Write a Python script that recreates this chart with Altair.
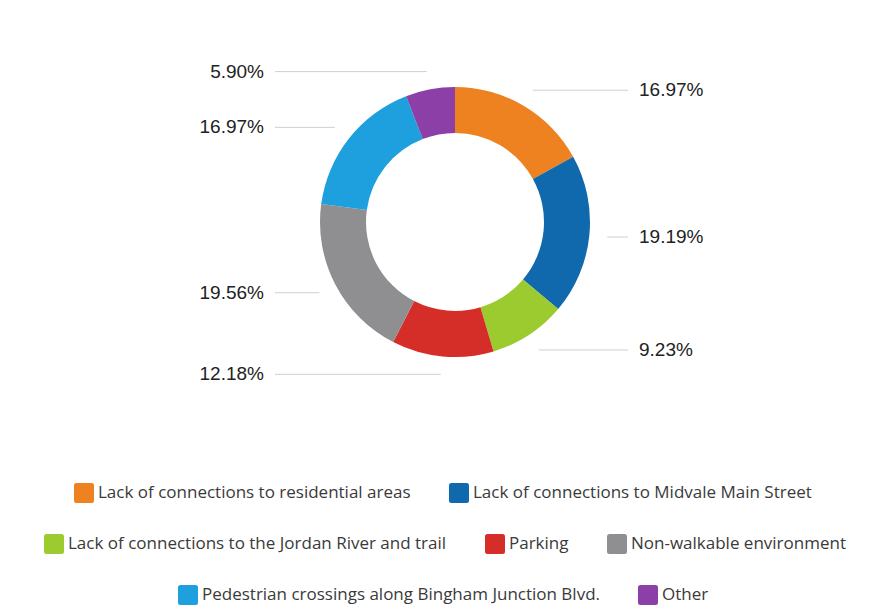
import math
import altair as alt
import pandas as pd

# ---- data ----
categories = [
    "Lack of connections to residential areas",
    "Lack of connections to Midvale Main Street",
    "Lack of connections to the Jordan River and trail",
    "Parking",
    "Non-walkable environment",
    "Pedestrian crossings along Bingham Junction Blvd.",
    "Other",
]
values = [16.97, 19.19, 9.23, 12.18, 19.56, 16.97, 5.90]
colors = ["#EE8120", "#0F69AC", "#9CCB30", "#D52D27", "#8F8F92", "#1EA0DE", "#8C3FA6"]
legend_rows = [0, 0, 1, 1, 1, 2, 2]

# ---- layout (pixels in plot coordinates) ----
W, H = 847, 580
CX, CY = 442, 209
R_IN, R_OUT = 89, 135
R_LBL = 153
RIGHT_COL = 626
LEFT_COL = 251

rows = []
cum = 0.0
total = sum(values)
for i, (c, v) in enumerate(zip(categories, values)):
    start = cum
    end = cum + v
    cum = end
    mid = (start + end) / 2 / total * 2 * math.pi
    sx = CX + R_LBL * math.sin(mid)
    ly = CY - R_LBL * math.cos(mid)
    side = "right" if math.sin(mid) >= 0 else "left"
    if side == "right":
        x0, x1, tx = sx, RIGHT_COL - 11, RIGHT_COL
    else:
        x0, x1, tx = LEFT_COL + 11, sx, LEFT_COL
    rows.append(dict(cat=c, value=v, start=start, end=end, idx=i,
                     lrow=legend_rows[i], side=side, x0=x0, x1=x1, tx=tx, ly=ly,
                     label=f"{v:.2f}%"))
df = pd.DataFrame(rows)

xs = alt.Scale(domain=[0, W], nice=False, zero=False)
ys = alt.Scale(domain=[0, H], nice=False, zero=False, reverse=True)
theta_scale = alt.Scale(domain=[0, total], range=[0, 2 * math.pi])

rounded_square = "M-1,-0.75Q-1,-1,-0.75,-1L0.75,-1Q1,-1,1,-0.75L1,0.75Q1,1,0.75,1L-0.75,1Q-1,1,-1,0.75Z"

legend_pos = {0: (61, 470), 1: (31, 521), 2: (165, 572)}

arc_layers = []
for r in range(3):
    sub = df[df.lrow == r]
    lx, ly = legend_pos[r]
    arc_layers.append(
        alt.Chart(sub).mark_arc(innerRadius=R_IN, outerRadius=R_OUT).encode(
            theta=alt.Theta("start:Q", scale=theta_scale),
            theta2="end:Q",
            x=alt.value(CX),
            y=alt.value(CY),
            color=alt.Color(
                "cat:N",
                sort=list(sub.cat),
                scale=alt.Scale(domain=list(sub.cat), range=[colors[i] for i in sub.idx]),
                legend=alt.Legend(
                    title=None, orient="none", legendX=lx, legendY=ly,
                    direction="horizontal", columns=len(sub),
                    symbolType=rounded_square, symbolSize=400, symbolStrokeWidth=0,
                    symbolOpacity=1,
                    labelFont="Open Sans", labelFontSize=17, labelColor="#3a3a3a",
                    labelOffset=4, columnPadding=38, labelLimit=600,
                ),
            ),
        )
    )

rules = alt.Chart(df).mark_rule(color="#CFCFCF", strokeWidth=1).encode(
    x=alt.X("x0:Q", scale=xs, axis=None),
    x2="x1:Q",
    y=alt.Y("ly:Q", scale=ys, axis=None),
)

text_right = alt.Chart(df[df.side == "right"]).mark_text(
    align="left", baseline="middle", font="Liberation Sans", fontSize=19, color="#222222"
).encode(
    x=alt.X("tx:Q", scale=xs, axis=None),
    y=alt.Y("ly:Q", scale=ys, axis=None),
    text="label:N",
)
text_left = alt.Chart(df[df.side == "left"]).mark_text(
    align="right", baseline="middle", font="Liberation Sans", fontSize=19, color="#222222"
).encode(
    x=alt.X("tx:Q", scale=xs, axis=None),
    y=alt.Y("ly:Q", scale=ys, axis=None),
    text="label:N",
)

chart = alt.layer(*arc_layers, rules, text_right, text_left).resolve_scale(
    color="independent"
).properties(width=W, height=H).configure_view(stroke=None)

chart.save("out.html", embed_options={"renderer": "svg", "actions": False})
